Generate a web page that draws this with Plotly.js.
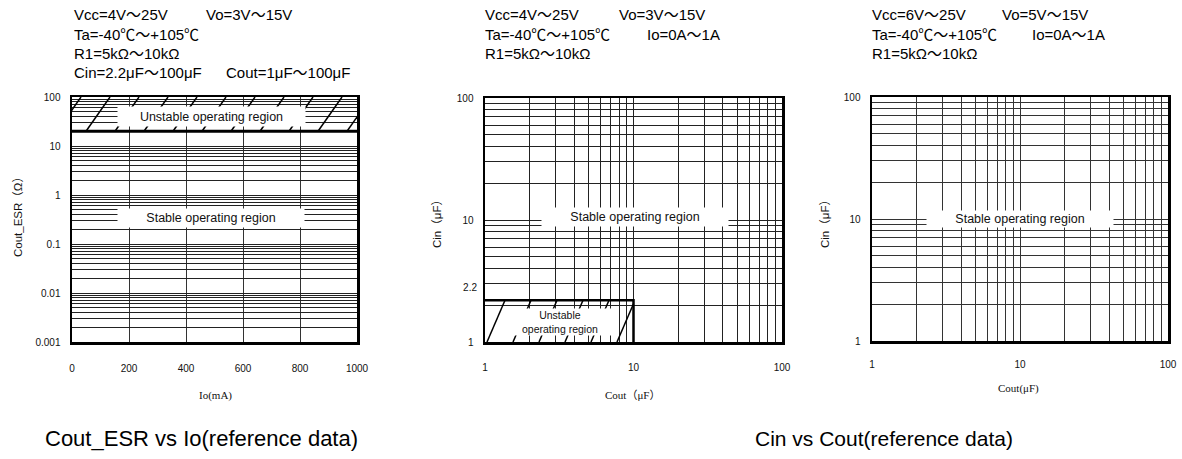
<!DOCTYPE html>
<html>
<head>
<meta charset="utf-8">
<script src="https://cdn.plot.ly/plotly-3.0.1.min.js"></script>
<style>html,body{margin:0;padding:0;background:#fff}#chart{width:1182px;height:459px}</style>
</head>
<body>
<div id="chart"></div>
<script>
// ---------- data ----------
const ioTicks = [0, 200, 400, 600, 800, 1000];            // Io (mA)
const ioRange = [0, 1000];
const esrDecades = [0.001, 0.01, 0.1, 1, 10, 100];         // Cout_ESR (Ω)
const esrTickLabels = ['0.001', '0.01', '0.1', '1', '10', '100'];
const esrUnstable = [20, 100];                              // unstable ESR band
const capDecades = [1, 10, 100];                            // µF
const capTickLabels = ['1', '10', '100'];
const coutUnstable = [1, 10];                               // panel 2 unstable Cout band
const cinUnstable = [1, 2.2];                               // panel 2 unstable Cin band
const cinExtraTick = [2.2];
const cinExtraLabel = ['2.2'];

const header1 = [['Vcc=4V～25V', 'Vo=3V～15V'], ['Ta=-40℃～+105℃', ''], ['R1=5kΩ～10kΩ', ''], ['Cin=2.2μF～100μF', 'Cout=1μF～100μF']];
const header2 = [['Vcc=4V～25V', 'Vo=3V～15V'], ['Ta=-40℃～+105℃', 'Io=0A～1A'], ['R1=5kΩ～10kΩ', '']];
const header3 = [['Vcc=6V～25V', 'Vo=5V～15V'], ['Ta=-40℃～+105℃', 'Io=0A～1A'], ['R1=5kΩ～10kΩ', '']];
const captions = ['Cout_ESR vs Io(reference data)', 'Cin vs Cout(reference data)'];

// ---------- helpers ----------
const W = 1182, H = 459;
const px = x => x / W, py = y => 1 - y / H;

function logGrid(decades, labels) {
  const vals = [], text = [];
  for (let i = 0; i < decades.length - 1; i++) {
    for (let k = 1; k <= 9; k++) { vals.push(decades[i] * k); text.push(k === 1 ? labels[i] : ''); }
  }
  vals.push(decades[decades.length - 1]); text.push(labels[labels.length - 1]);
  return {vals, text};
}
const g1y = logGrid(esrDecades, esrTickLabels);
const gCap = logGrid(capDecades, capTickLabels);

// Panel 1 hatch (x linear, y log): straight lines in pixel space, lean to the right
const p1W = 285;                       // plot width in px
const mAperPx = (ioRange[1] - ioRange[0]) / p1W;
const h1 = {spacing: 29 * mAperPx, lean: 24 * mAperPx, start: 14 * mAperPx};
const hx1 = [], hy1 = [];
for (let b = h1.start - h1.spacing; b < ioRange[1]; b += h1.spacing) {
  hx1.push(b, b + h1.lean, null);
  hy1.push(esrUnstable[0], esrUnstable[1], null);
}

// Panel 2 hatch (log-log), clipped to the unstable Cout band
const decPx = 148.5;
const h2 = {spacing: 26 / decPx, lean: 18 / decPx, start: 2 / decPx};
const uL = Math.log10(coutUnstable[0]), uR = Math.log10(coutUnstable[1]);
const vB = Math.log10(cinUnstable[0]), vT = Math.log10(cinUnstable[1]);
const hx2 = [], hy2 = [];
for (let ub = uL + h2.start - 2 * h2.spacing; ub < uR; ub += h2.spacing) {
  const t0 = Math.max(0, (uL - ub) / h2.lean), t1 = Math.min(1, (uR - ub) / h2.lean);
  if (t0 >= t1) continue;
  hx2.push(Math.pow(10, ub + t0 * h2.lean), Math.pow(10, ub + t1 * h2.lean), null);
  hy2.push(Math.pow(10, vB + t0 * (vT - vB)), Math.pow(10, vB + t1 * (vT - vB)), null);
}

// ---------- traces ----------
const traces = [
  {x: hx1, y: hy1, xaxis: 'x', yaxis: 'y', mode: 'lines', line: {color: '#000', width: 1.5}, hoverinfo: 'skip', showlegend: false},
  {x: ioRange, y: [esrUnstable[0], esrUnstable[0]], xaxis: 'x', yaxis: 'y', mode: 'lines', line: {color: '#000', width: 3}, hoverinfo: 'skip', showlegend: false},
  {x: hx2, y: hy2, xaxis: 'x2', yaxis: 'y2', mode: 'lines', line: {color: '#000', width: 1.5}, hoverinfo: 'skip', showlegend: false},
  {x: [coutUnstable[0], coutUnstable[1], coutUnstable[1]], y: [cinUnstable[1], cinUnstable[1], cinUnstable[0]],
   xaxis: 'x2', yaxis: 'y4', mode: 'lines', line: {color: '#000', width: 2.5}, hoverinfo: 'skip', showlegend: false},
  {x: [capDecades[0]], y: [capDecades[0]], xaxis: 'x3', yaxis: 'y3', mode: 'markers', marker: {opacity: 0}, hoverinfo: 'skip', showlegend: false}
];

// ---------- layout ----------
const tickFont = {family: 'Liberation Sans, Arial, sans-serif', size: 10, color: '#111'};
const gridCol = '#222';
const frame = {showline: true, mirror: true, linewidth: 2.5, linecolor: '#000', zeroline: false, ticks: '', tickfont: tickFont};

const layout = {
  width: W, height: H,
  margin: {l: 0, r: 0, t: 0, b: 0},
  paper_bgcolor: '#fff', plot_bgcolor: '#fff',
  showlegend: false,
  xaxis: Object.assign({}, frame, {domain: [px(72), px(357)], range: ioRange, tickvals: ioTicks, ticktext: ioTicks.map(String),
          showgrid: true, gridcolor: '#333', gridwidth: 1, anchor: 'y', ticklabelstandoff: 15}),
  yaxis: Object.assign({}, frame, {domain: [py(342), py(97)], type: 'log', range: [Math.log10(esrDecades[0]), Math.log10(esrDecades[esrDecades.length - 1])],
          tickvals: g1y.vals, ticktext: g1y.text, showgrid: true, gridcolor: gridCol, gridwidth: 1, anchor: 'x', ticklabelstandoff: 7}),
  xaxis2: Object.assign({}, frame, {domain: [px(485), px(782)], type: 'log', range: [0, 2], tickvals: gCap.vals, ticktext: gCap.text,
          showgrid: true, gridcolor: gridCol, gridwidth: 1, anchor: 'y2', ticklabelstandoff: 14}),
  yaxis2: Object.assign({}, frame, {domain: [py(342), py(98)], type: 'log', range: [0, 2], tickvals: gCap.vals, ticktext: gCap.text,
          showgrid: true, gridcolor: gridCol, gridwidth: 1, anchor: 'x2', ticklabelstandoff: 7}),
  yaxis4: {overlaying: 'y2', anchor: 'x2', side: 'left', type: 'log', range: [0, 2], tickvals: cinExtraTick, ticktext: cinExtraLabel,
          showgrid: false, showline: false, zeroline: false, ticks: '', tickfont: tickFont, ticklabelstandoff: 7, ticklabelshift: -13},
  xaxis3: Object.assign({}, frame, {domain: [px(872), px(1168)], type: 'log', range: [0, 2], tickvals: gCap.vals, ticktext: gCap.text,
          showgrid: true, gridcolor: '#333', gridwidth: 1, anchor: 'y3', ticklabelstandoff: 12}),
  yaxis3: Object.assign({}, frame, {domain: [py(341), py(97)], type: 'log', range: [0, 2], tickvals: gCap.vals, ticktext: gCap.text,
          showgrid: true, gridcolor: '#333', gridwidth: 1, anchor: 'x3', ticklabelstandoff: 7}),
  annotations: []
};

const ann = layout.annotations;
const sans = 'Liberation Sans, Arial, Noto Sans CJK JP, sans-serif';
const serif = 'Liberation Serif, DejaVu Serif, Noto Sans CJK JP, serif';

function addHeader(rows, x1, x2) {
  rows.forEach((r, i) => {
    const y = 15 + i * 19;
    if (r[0]) ann.push({text: r[0], xref: 'paper', yref: 'paper', x: px(x1), y: py(y), xanchor: 'left', yanchor: 'middle', showarrow: false, font: {family: sans, size: 15, color: '#000'}});
    if (r[1]) ann.push({text: r[1], xref: 'paper', yref: 'paper', x: px(x2[i] || x2[0]), y: py(y), xanchor: 'left', yanchor: 'middle', showarrow: false, font: {family: sans, size: 15, color: '#000'}});
  });
}
addHeader(header1, 72, [204, 204, 204, 224]);
addHeader(header2, 483, [617, 645, 645]);
addHeader(header3, 870, [1000, 1030, 1030]);

function box(text, cx, cy, w, h, size) {
  ann.push({text: text, xref: 'paper', yref: 'paper', x: px(cx), y: py(cy), xanchor: 'center', yanchor: 'middle', showarrow: false,
            width: w, height: h, bgcolor: '#fff', borderpad: 0, align: 'center', font: {family: sans, size: size, color: '#111'}});
}
box('Unstable operating region', 211, 116.5, 187, 19, 12.5);
box('Stable operating region', 211, 218, 186, 18, 12.5);
box('Stable operating region', 635, 217, 186, 18, 12.5);
box('Unstable<br>operating region', 560, 321.5, 104, 26, 10.5);
box('Stable operating region', 1020, 219, 186, 16, 12.5);

function title(text, cx, cy, rot, fam, size) {
  ann.push({text: text, xref: 'paper', yref: 'paper', x: px(cx), y: py(cy), xanchor: 'center', yanchor: 'middle', showarrow: false,
            textangle: rot, font: {family: fam, size: size, color: '#111'}});
}
title('Io(mA)', 215, 395, 0, serif, 11);
title('Cout_ESR（Ω）', 18, 214, -90, sans, 11.5);
title('Cout（μF）', 632, 395, 0, serif, 11);
title('Cin（μF）', 437, 221, -90, sans, 11.5);
title('Cout(μF)', 1018, 388, 0, serif, 11);
title('Cin（μF）', 825, 221, -90, sans, 11.5);

ann.push({text: captions[0], xref: 'paper', yref: 'paper', x: px(43), y: py(438), xanchor: 'left', yanchor: 'middle', showarrow: false, font: {family: sans, size: 22, color: '#000'}});
ann.push({text: captions[1], xref: 'paper', yref: 'paper', x: px(753), y: py(438), xanchor: 'left', yanchor: 'middle', showarrow: false, font: {family: sans, size: 21, color: '#000'}});

Plotly.newPlot('chart', traces, layout, {staticPlot: true, displayModeBar: false});
</script>
</body>
</html>
